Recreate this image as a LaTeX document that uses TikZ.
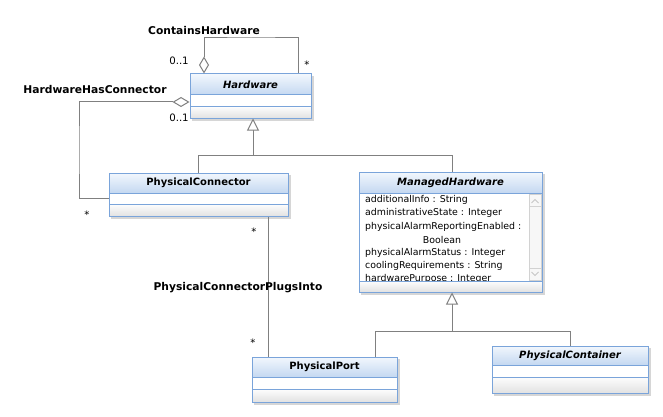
\documentclass[tikz,border=0pt]{standalone}
\usepackage{fontspec}
\setmainfont{DejaVu Sans}
\usetikzlibrary{arrows.meta,fit}
\definecolor{bord}{RGB}{122,164,218}
\definecolor{htop}{RGB}{242,247,253}
\definecolor{hbot}{RGB}{196,216,241}
\definecolor{ln}{RGB}{128,128,128}
\definecolor{ftop}{RGB}{253,253,253}
\definecolor{fbot}{RGB}{226,226,226}
\tikzset{
  boldtxt/.style={font=\fontsize{10.7}{13}\selectfont\bfseries},
  classtxt/.style={font=\fontsize{10}{12}\selectfont\bfseries},
  normtxt/.style={font=\fontsize{9.4}{12}\selectfont},
  multtxt/.style={font=\fontsize{10.2}{12}\selectfont},
  conn/.style={draw=ln,line width=1pt},
  agg/.style={conn,{Diamond[open,length=17pt,width=10pt,fill=white]}-},
  gen/.style={conn,-{Triangle[open,length=12pt,width=12pt,fill=white]}},
  boxframe/.style={draw=bord,line width=1pt,inner sep=0pt,rectangle}
}
% name, x1, y1, x2, y2, header bottom, middle line, label
\newcommand\umlclass[8]{%
  \fill[black!16] (#2+2,#3+2) rectangle (#4+2.5,#5+2.5);
  \fill[top color=htop,bottom color=hbot] (#2,#3) rectangle (#4,#6);
  \fill[white] (#2,#6) rectangle (#4,#7);
  \fill[top color=ftop,bottom color=fbot] (#2,#7) rectangle (#4,#5);
  \draw[bord,line width=1pt] (#2,#6) -- (#4,#6) (#2,#7) -- (#4,#7);
  \node[boxframe,fit={(#2,#3) (#4,#5)}] (#1) {};
  \node[classtxt] at ({(#2+#4)/2},{(#3+#6)/2}) {#8};
}
\begin{document}
\begin{tikzpicture}[x=1pt,y=-1pt]
\useasboundingbox[fill=white] (0,0) rectangle (663,417);

\umlclass{hw}{190}{74}{311}{118}{95}{106.5}{\itshape Hardware}
\umlclass{pconn}{109}{173}{288}{216}{193}{204}{PhysicalConnector}
\umlclass{mh}{359}{172}{542}{292}{193}{281}{\itshape ManagedHardware}
\umlclass{pport}{252}{357}{397}{402}{377}{389}{PhysicalPort}
\umlclass{pcont}{492}{346}{648}{393}{365}{377}{\itshape PhysicalContainer}

% scrollbar
\fill[gray!6] (529,194) rectangle (541,280.5);
\draw[gray!35,line width=0.6pt] (529,194) rectangle (541,280.5);
\draw[gray!35,line width=0.6pt] (529,206) -- (541,206) (529,268) -- (541,268);
\draw[gray!45,line width=0.8pt] (531.5,203) -- (535,199.5) -- (538.5,203);
\draw[gray!45,line width=0.8pt] (531.5,272) -- (535,275.5) -- (538.5,272);

% attributes
\begin{scope}
\clip (360,194) rectangle (528,280.5);
\foreach \t/\yy in {additionalInfo : String/200, administrativeState : Integer/213,
  physicalAlarmReportingEnabled :/227, physicalAlarmStatus : Integer/253,
  coolingRequirements : String/266, hardwarePurpose : Integer/279}
  \node[normtxt,anchor=west,inner sep=0pt] at (365,\yy) {\t};
\node[normtxt,inner sep=0pt] at (442,240) {Boolean};
\end{scope}

% ContainsHardware
\draw[agg] (204,0 |- hw.north) |- (251,38) -| (298,0 |- hw.north);
% HardwareHasConnector
\draw[agg] (hw.west |- 0,102) -| (79,150) |- (pconn.west |- 0,198);
% generalizations
\draw[conn] (198,0 |- pconn.north) |- (452,155) -- (452,0 |- mh.north);
\draw[gen] (253,155) -- (253,0 |- hw.south);
\draw[conn] (375,0 |- pport.north) |- (570,331) -- (570,0 |- pcont.north);
\draw[gen] (452,331) -- (452,0 |- mh.south);
% PlugsInto
\draw[conn] (268,0 |- pconn.south) -- (268,0 |- pport.north);

% labels
\node[boldtxt] (l1) at (204,31) {ContainsHardware};
\node[boldtxt] (l2) at (95,90) {HardwareHasConnector};
\node[boldtxt] (l3) at (238,288) {PhysicalConnectorPlugsInto};
\node[multtxt] (m1) at (179,61) {0..1};
\node[multtxt] (m2) at (179,118) {0..1};
\node[multtxt] (m3) at (307,65) {*};
\node[multtxt] (m4) at (87,215) {*};
\node[multtxt] (m5) at (254,232) {*};
\node[multtxt] (m6) at (253,343) {*};
\end{tikzpicture}
\end{document}
